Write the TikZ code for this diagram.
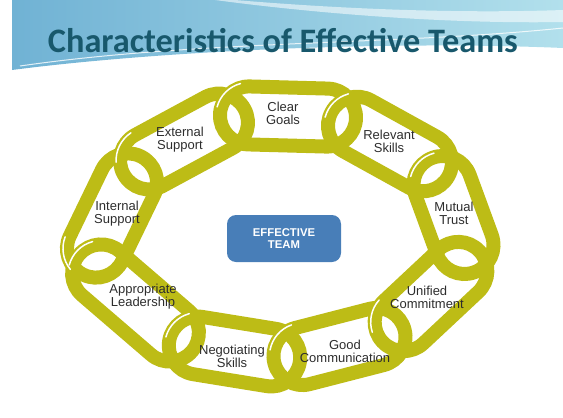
\documentclass[tikz,border=0pt]{standalone}
\usepackage{fontspec}
\setmainfont{Liberation Sans}
\newfontfamily\headfont{Carlito}

\definecolor{chain}{RGB}{189,188,22}
\definecolor{teamblue}{RGB}{72,126,184}
\definecolor{headteal}{RGB}{24,88,108}
\definecolor{skyleft}{RGB}{112,178,212}
\definecolor{skyright}{RGB}{178,224,236}
\definecolor{labelgray}{RGB}{45,45,45}

% link ends (left end first): ax/ay/bx/by
\newcommand\chainlinks{233/115/343/118, 343/118/437/170, 437/170/470/260,
  392/333/470/260, 287/360/392/333, 182/343/287/360,
  89/263/182/343, 89/263/135/168, 135/168/233/115}

\begin{document}
\begin{tikzpicture}[
  x=1pt, y=-1pt,
  link/.style={draw=chain, line width=14pt, rounded corners=28.9pt},
  glint/.style={draw=white, line width=1.5pt, line cap=round},
  lbl/.style={align=center, text=labelgray, inner sep=0pt, font=\fontsize{13}{12.8}\selectfont},
  core/.style={fill=teamblue, rounded corners=9pt, minimum width=114pt, minimum height=47pt,
    text=white, align=center, font=\bfseries\fontsize{11.3}{12}\selectfont}
]
\useasboundingbox (0,0) rectangle (563,418);

% title band
\shade[left color=skyleft, right color=skyright]
  (12,0) -- (563,0) -- (563,48) .. controls (380,40) and (150,52) .. (12,70) -- cycle;
\fill[white, opacity=.55]
  (235,0) .. controls (330,8) and (450,14) .. (563,10) -- (563,22)
  .. controls (450,24) and (320,14) .. (215,0) -- cycle;
\draw[white, line width=1pt, opacity=.8] (20,66) .. controls (200,40) and (400,45) .. (563,28);
\node[font=\headfont\bfseries\fontsize{34.3}{36}\selectfont, text=headteal, anchor=base]
  (title) at (283,52) {Characteristics of Effective Teams};

% chain links
\foreach \ax/\ay/\bx/\by in \chainlinks {
  \pgfmathsetmacro\tilt{atan2(\by-\ay,\bx-\ax)}
  \pgfmathsetmacro\halflen{veclen(\bx-\ax,\by-\ay)/2+13}
  \begin{scope}[shift={({(\ax+\bx)/2},{(\ay+\by)/2})}, rotate=-\tilt]
    \draw[link] (-\halflen,-29) rectangle (\halflen,29);
  \end{scope}
}
% highlights on the left ends
\foreach \ax/\ay/\bx/\by in \chainlinks {
  \pgfmathsetmacro\tilt{atan2(\by-\ay,\bx-\ax)}
  \pgfmathsetmacro\endx{veclen(\bx-\ax,\by-\ay)/2+13-29}
  \pgfmathsetmacro\glintstart{min(max(195-\tilt,95),205)}
  \begin{scope}[shift={({(\ax+\bx)/2},{(\ay+\by)/2})}, rotate=-\tilt]
    \draw[glint] ([shift={(\glintstart:33)}]-\endx,0) arc[start angle=\glintstart, delta angle=60, radius=33];
  \end{scope}
}

% labels
\node[lbl] (goals) at (283,113) {Clear\\Goals};
\node[lbl] (skills) at (389,141) {Relevant\\Skills};
\node[lbl] (trust) at (454,213) {Mutual\\Trust};
\node[lbl] (commit) at (427,297) {Unified\\Commitment};
\node[lbl] (comm) at (345,351) {Good\\Communication};
\node[lbl] (negot) at (232,356) {Negotiating\\Skills};
\node[lbl] (lead) at (143,297) {Appropriate\\Leadership};
\node[lbl] (intsup) at (117,214) {Internal\\Support};
\node[lbl] (extsup) at (180,140) {External\\Support};

\node[core] (team) at (284,238.5) {EFFECTIVE\\TEAM};
\end{tikzpicture}
\end{document}
